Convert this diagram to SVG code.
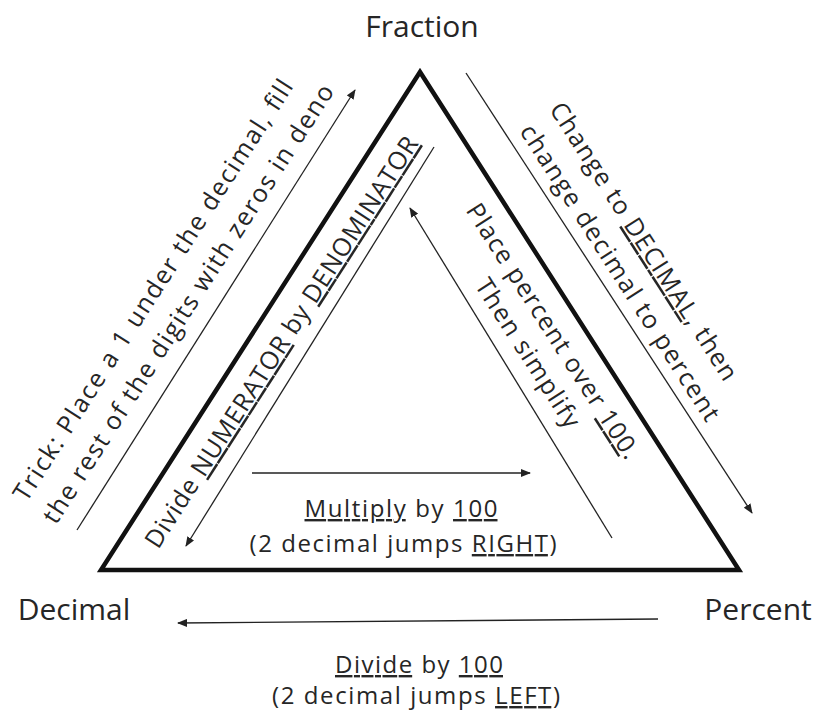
<svg xmlns="http://www.w3.org/2000/svg" width="825" height="723" viewBox="0 0 825 723">
<style>
text{font-family:"Open Sans","Lato","DejaVu Sans",sans-serif;fill:#262626}
.lbl{font-size:30px;text-anchor:middle}
.t{font-size:25px;text-anchor:middle}
.b{font-size:24px;text-anchor:middle}
.u{text-decoration:underline}
.ln{stroke:#222;stroke-width:1.3;fill:none}
.ar{marker-end:url(#ah)}
</style>
<defs>
<marker id="ah" viewBox="0 0 10 8" refX="9" refY="4" markerWidth="10" markerHeight="8" markerUnits="userSpaceOnUse" orient="auto">
<path d="M0,0 L10,4 L0,8 z" fill="#222"/>
</marker>
</defs>
<rect width="825" height="723" fill="#fff"/>
<g id="triangle"><polygon points="420,72 101,570 739,570" fill="none" stroke="#111" stroke-width="4.5" stroke-linejoin="miter"/></g>
<g id="node-fraction"><text class="lbl" x="422" y="37">Fraction</text></g>
<g id="node-decimal"><text class="lbl" x="74" y="620">Decimal</text></g>
<g id="node-percent"><text class="lbl" x="758" y="620">Percent</text></g>
<g id="connectors">
<line class="ln ar" x1="77" y1="530" x2="355" y2="90"/>
<line class="ln ar" x1="434" y1="147" x2="186" y2="546"/>
<line class="ln ar" x1="466" y1="73" x2="752" y2="513"/>
<line class="ln ar" x1="612" y1="538" x2="410" y2="208"/>
<line class="ln ar" x1="252" y1="473" x2="530" y2="473"/>
<line class="ln ar" x1="658" y1="619" x2="178" y2="623"/>
</g>
<g id="label-decimal-to-fraction">
<text class="t" transform="translate(160.3,294.8) rotate(-57.3)" textLength="495" lengthAdjust="spacing">Trick: Place a 1 under the decimal, fill</text>
<text class="t" transform="translate(195.5,308.4) rotate(-57.3)" textLength="516" lengthAdjust="spacing">the rest of the digits with zeros in deno</text>
</g>
<g id="label-fraction-to-decimal">
<text class="t" transform="translate(288.7,346.7) rotate(-57.3)" textLength="483" lengthAdjust="spacing">Divide <tspan class="u">NUMERATOR</tspan> by <tspan class="u">DENOMINATOR</tspan></text>
</g>
<g id="label-fraction-to-percent">
<text class="t" transform="translate(636.6,245.9) rotate(57.3)" textLength="325" lengthAdjust="spacing">Change to <tspan class="u">DECIMAL</tspan>, then</text>
<text class="t" transform="translate(612.8,277.3) rotate(57.3)" textLength="347" lengthAdjust="spacing">change decimal to percent</text>
</g>
<g id="label-percent-to-fraction">
<text class="t" transform="translate(545.7,335.7) rotate(57.3)" textLength="298" lengthAdjust="spacing">Place percent over <tspan class="u">100</tspan>.</text>
<text class="t" transform="translate(520.6,357.7) rotate(57.3)" textLength="172" lengthAdjust="spacing">Then simplify</text>
</g>
<g id="label-decimal-to-percent">
<text class="b" x="401" y="517" textLength="193" lengthAdjust="spacing"><tspan class="u">Multiply</tspan> by <tspan class="u">100</tspan></text>
<text class="b" x="403" y="552" textLength="307" lengthAdjust="spacing">(2 decimal jumps <tspan class="u">RIGHT</tspan>)</text>
</g>
<g id="label-percent-to-decimal">
<text class="b" x="419" y="673" textLength="168" lengthAdjust="spacing"><tspan class="u">Divide</tspan> by <tspan class="u">100</tspan></text>
<text class="b" x="416" y="704" textLength="288" lengthAdjust="spacing">(2 decimal jumps <tspan class="u">LEFT</tspan>)</text>
</g>
</svg>
